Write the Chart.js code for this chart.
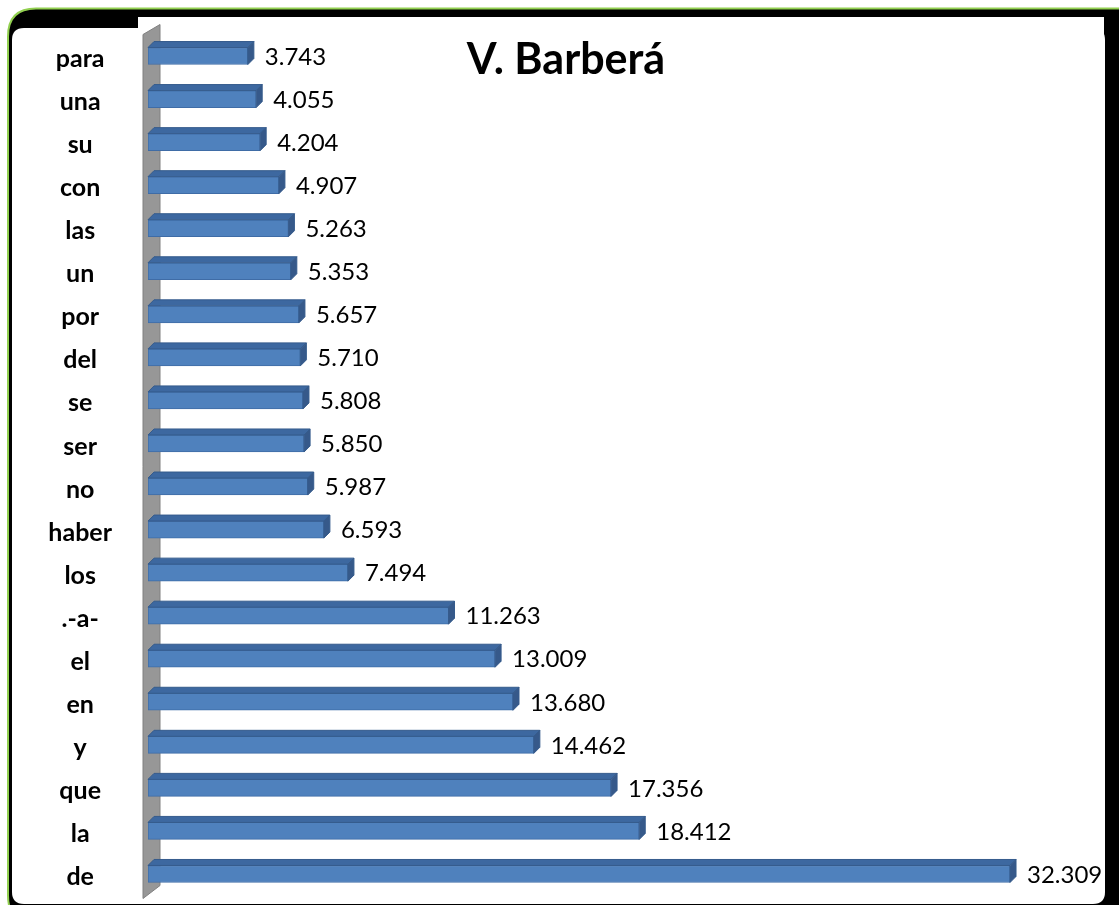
<!DOCTYPE html>
<html>
<head>
<meta charset="utf-8">
<script src="https://cdn.jsdelivr.net/npm/chart.js@4.4.1/dist/chart.umd.min.js"></script>
<style>
    html, body { margin: 0; padding: 0; background: #fff; }
    #chartBox { width: 1119px; height: 905px; position: relative; }
</style>
</head>
<body>
<div id="chartBox"><canvas id="myChart"></canvas></div>
<script>
const words = ['para', 'una', 'su', 'con', 'las', 'un', 'por', 'del', 'se', 'ser',
    'no', 'haber', 'los', '.-a-', 'el', 'en', 'y', 'que', 'la', 'de'];
const counts = [3743, 4055, 4204, 4907, 5263, 5353, 5657, 5710, 5808, 5850,
    5987, 6593, 7494, 11263, 13009, 13680, 14462, 17356, 18412, 32309];
const chartTitle = 'V. Barberá';

const DEPTH = 6;

function fmt(n) {
    return String(n).replace(/\B(?=(\d{3})+(?!\d))/g, '.');
}

function roundRect(ctx, x, y, w, h, r) {
    ctx.beginPath();
    ctx.moveTo(x + r, y);
    ctx.lineTo(x + w - r, y);
    ctx.quadraticCurveTo(x + w, y, x + w, y + r);
    ctx.lineTo(x + w, y + h - r);
    ctx.quadraticCurveTo(x + w, y + h, x + w - r, y + h);
    ctx.lineTo(x + r, y + h);
    ctx.quadraticCurveTo(x, y + h, x, y + h - r);
    ctx.lineTo(x, y + r);
    ctx.quadraticCurveTo(x, y, x + r, y);
    ctx.closePath();
}

// frame, side wall and title
const backdrop = {
    id: 'backdrop',
    beforeDraw(chart) {
        const ctx = chart.ctx;
        const a = chart.chartArea;
        ctx.save();
        ctx.fillStyle = '#fff';
        ctx.fillRect(0, 0, chart.width, chart.height);

        roundRect(ctx, 8, 8.5, 1140, 915, 28);
        ctx.fillStyle = '#000';
        ctx.fill();
        ctx.lineWidth = 2;
        ctx.strokeStyle = '#92D050';
        ctx.stroke();

        ctx.fillStyle = '#fff';
        roundRect(ctx, 12, 28, 1093, 876, 12);
        ctx.fill();
        ctx.fillRect(138, 17, 966, 860);

        // grey wall behind the bars
        ctx.beginPath();
        ctx.moveTo(a.left - 5, a.top);
        ctx.lineTo(a.left + 12, a.top - 10);
        ctx.lineTo(a.left + 12, a.bottom - 10);
        ctx.lineTo(a.left - 5, a.bottom + 3);
        ctx.closePath();
        ctx.fillStyle = '#979797';
        ctx.fill();
        ctx.lineWidth = 1;
        ctx.strokeStyle = '#808080';
        ctx.stroke();

        ctx.fillStyle = '#000';
        ctx.font = 'bold 43px Lato';
        ctx.textAlign = 'center';
        ctx.textBaseline = 'alphabetic';
        ctx.fillText(chartTitle, 566, 74);
        ctx.restore();
    }
};

// top and end faces of the bars plus value labels
const bars3d = {
    id: 'bars3d',
    afterDatasetsDraw(chart) {
        const ctx = chart.ctx;
        const meta = chart.getDatasetMeta(0);
        ctx.save();
        meta.data.forEach((bar, i) => {
            const top = bar.y - bar.height / 2;
            const bottom = bar.y + bar.height / 2;
            const x0 = bar.base, x1 = bar.x;

            ctx.beginPath();
            ctx.moveTo(x0, top);
            ctx.lineTo(x0 + DEPTH, top - DEPTH);
            ctx.lineTo(x1 + DEPTH, top - DEPTH);
            ctx.lineTo(x1, top);
            ctx.closePath();
            ctx.fillStyle = '#3D68A0';
            ctx.fill();
            ctx.strokeStyle = '#355B8C';
            ctx.lineWidth = 1;
            ctx.stroke();

            ctx.beginPath();
            ctx.moveTo(x1, top);
            ctx.lineTo(x1 + DEPTH, top - DEPTH);
            ctx.lineTo(x1 + DEPTH, bottom - DEPTH);
            ctx.lineTo(x1, bottom);
            ctx.closePath();
            ctx.fillStyle = '#36598A';
            ctx.fill();
            ctx.stroke();

            ctx.fillStyle = '#000';
            ctx.font = '24px Lato';
            ctx.textAlign = 'left';
            ctx.textBaseline = 'middle';
            ctx.fillText(fmt(counts[i]), x1 + 17, bar.y + 1);
        });
        ctx.restore();
    }
};

const chart = new Chart(document.getElementById('myChart'), {
    type: 'bar',
    data: {
        labels: words,
        datasets: [{
            data: counts,
            backgroundColor: '#4F81BD',
            borderColor: '#3F6CA6',
            borderWidth: 1,
            borderSkipped: false,
            barThickness: 17
        }]
    },
    options: {
        indexAxis: 'y',
        responsive: true,
        maintainAspectRatio: false,
        animation: false,
        layout: { padding: { top: 34.5, bottom: 9.5, left: 0, right: 10.5 } },
        plugins: { legend: { display: false }, tooltip: { enabled: false } },
        scales: {
            x: { display: false, min: 0, max: 36000 },
            y: {
                grid: { display: false },
                border: { display: false },
                afterFit: scale => {
                    scale.width = 148;
                    scale.paddingTop = 0;
                    scale.paddingBottom = 0;
                },
                ticks: {
                    crossAlign: 'center',
                    padding: 28,
                    labelOffset: 3,
                    color: '#000',
                    font: { family: 'Lato', size: 25, weight: 'bold' }
                }
            }
        }
    },
    plugins: [backdrop, bars3d]
});
</script>
</body>
</html>
